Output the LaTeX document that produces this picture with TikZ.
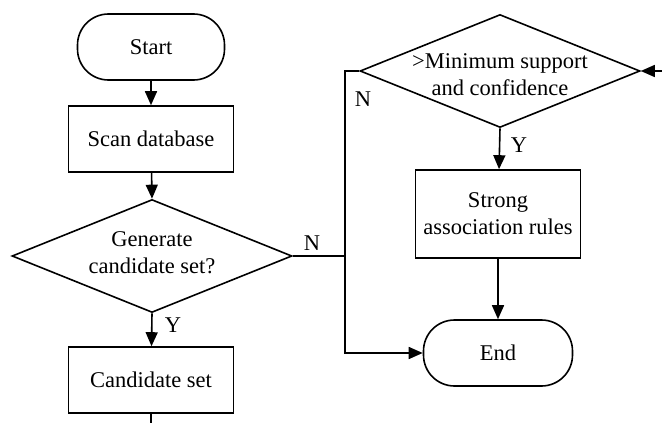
\documentclass[tikz,border=0pt]{standalone}
\usepackage{fontspec}
\setmainfont{Liberation Serif}
\usetikzlibrary{shapes.geometric,arrows.meta}
\begin{document}
\begin{tikzpicture}[x=1pt,y=-1pt,
  every node/.style={font=\fontsize{22.5}{27}\selectfont},
  lw/.style={line width=1.6pt},
  term/.style={lw,draw,rounded corners=31pt,minimum width=147pt,minimum height=66pt,inner sep=0pt},
  proc/.style={lw,draw,minimum width=165pt,minimum height=66pt,inner sep=0pt,align=center},
  dec/.style={lw,draw,diamond,minimum width=280pt,minimum height=113pt,inner sep=0pt},
  txt/.style={align=center,inner sep=0pt},
  lab/.style={inner sep=0pt},
  arr/.style={lw,-{Triangle[length=14pt,width=12pt]}},
  ln/.style={lw}]
\useasboundingbox (0,0) rectangle (662,423);
\node[term] (start) at (151,47) {Start};
\node[proc] (scan) at (151,139) {Scan database};
\node[dec] (gen) at (152,256) {};
\node[txt] (gentxt) at (152,253) {Generate\\candidate set?};
\node[proc] (cand) at (151,380) {Candidate set};
\node[dec] (min) at (500,71) {};
\node[txt] (mintxt) at (500,75) {>Minimum support\\and confidence};
\node[proc,minimum height=88pt] (strong) at (498,214) {Strong\\association rules};
\node[term,minimum width=149pt] (end) at (498,353) {End};
\coordinate (j1) at (345,256);
\coordinate (j2) at (345,71);
\coordinate (j3) at (345,353);
\coordinate (rin) at (662,71);
\coordinate (cbot) at (151,423);
\draw[arr] (start) -- (scan);
\draw[arr] (scan) -- (gen.north);
\draw[arr] (gen.south) -- (cand);
\draw[ln] (cand) -- (cbot);
\draw[ln] (gen.east) -- (j1);
\draw[arr] (min.west) -- (j2) -- (j3) -- (end.west);
\draw[arr] (min.south) -- (strong);
\draw[arr] (strong) -- (end);
\draw[arr] (rin) -- (min.east);
\node[lab] (ngen) at (312,243) {N};
\node[lab] (ygen) at (173,325) {Y};
\node[lab] (nmin) at (363,99) {N};
\node[lab] (ymin) at (519,145) {Y};
\end{tikzpicture}
\end{document}
